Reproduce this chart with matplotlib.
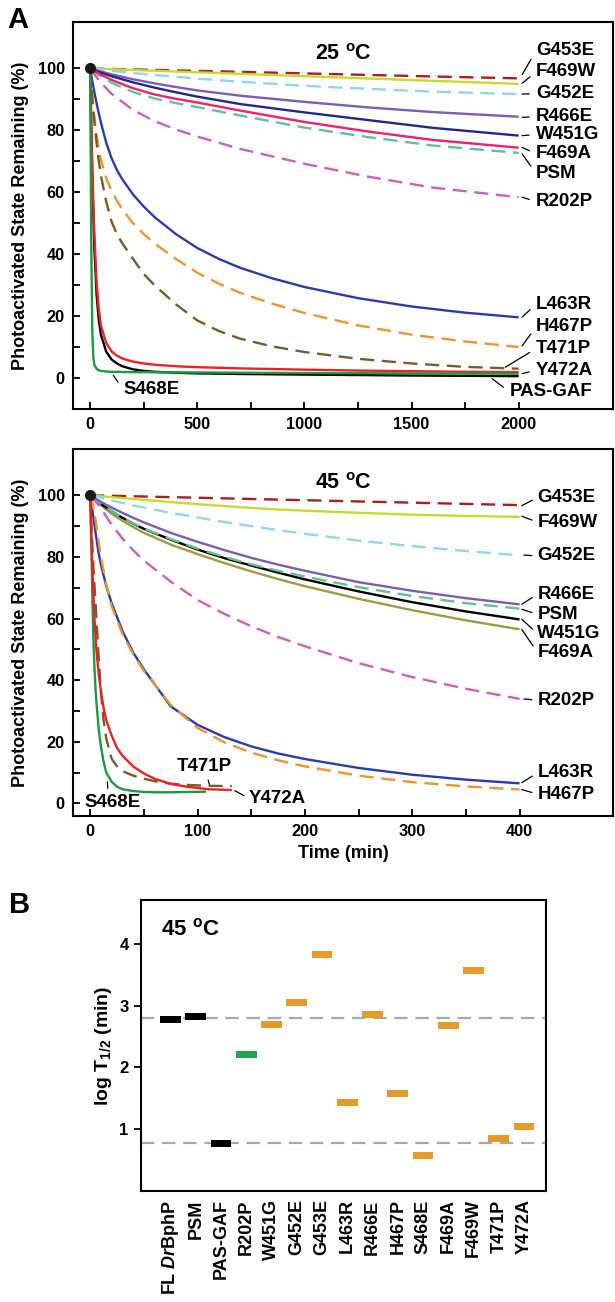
import matplotlib
matplotlib.use("Agg")
import matplotlib.pyplot as plt
import numpy as np

plt.rcParams['font.family'] = ['Liberation Sans', 'DejaVu Sans']
plt.rcParams['mathtext.fontset'] = 'custom'
plt.rcParams['mathtext.rm'] = 'Liberation Sans'
plt.rcParams['mathtext.it'] = 'Liberation Sans:bold:italic'
plt.rcParams['mathtext.bf'] = 'Liberation Sans:bold'

# ---------------- Panel A, 25 C ----------------
t25_slow = [0, 50, 100, 200, 300, 400, 500, 700, 1000, 1300, 1600, 2000]
g453e_25 = [100, 99.92, 99.84, 99.68, 99.52, 99.36, 99.2, 98.9, 98.4, 97.9, 97.4, 96.8]
f469w_25 = [100, 99.88, 99.75, 99.5, 99.25, 99.0, 98.75, 98.25, 97.5, 96.75, 96.0, 95.0]
g452e_25 = [100, 99.6, 99.2, 98.5, 97.9, 97.3, 96.7, 95.7, 94.4, 93.4, 92.5, 91.7]
r466e_25 = [100, 99.0, 98.1, 96.5, 95.2, 94.0, 92.9, 91.2, 89.2, 87.4, 85.9, 84.4]
w451g_25 = [100, 98.6, 97.5, 95.5, 93.8, 92.3, 90.9, 88.5, 85.8, 83.3, 80.8, 78.3]
f469a_25 = [100, 98.0, 96.3, 93.6, 91.6, 90.2, 89.0, 86.4, 82.7, 79.6, 76.9, 74.4]
psm_25 = [100, 97.4, 95.4, 92.4, 90.3, 88.8, 87.5, 84.8, 80.9, 77.8, 75.1, 72.7]
r202p_25 = [100, 95.4, 91.8, 86.6, 83.0, 80.3, 78.0, 74.0, 69.2, 65.0, 61.5, 58.4]

t25_fast = [0, 5, 10, 15, 20, 30, 40, 50, 75, 100, 125, 150, 200, 250, 300, 400, 500, 600,
            700, 850, 1000, 1250, 1500, 1750, 2000]
l463r_25 = [100, 98.0, 96.0, 94.1, 92.2, 88.8, 85.6, 82.6, 76.0, 71.0, 67.2, 64.2, 59.3, 55.4, 52.0,
            46.5, 42.0, 38.5, 35.6, 32.2, 29.4, 25.8, 23.1, 21.1, 19.6]
h467p_25 = [100, 95.3, 91.0, 87.3, 84.0, 78.5, 74.0, 70.5, 64.5, 60.5, 57.3, 54.5, 50.0, 46.5, 43.5,
            38.5, 34.0, 30.5, 27.5, 24.0, 21.0, 17.0, 14.0, 11.8, 10.0]
t471p_25 = [100, 95.0, 90.5, 86.3, 82.5, 76.0, 70.3, 65.5, 57.0, 50.5, 46.5, 43.5, 38.5, 33.6, 30.0,
            23.8, 18.6, 15.2, 12.7, 10.2, 8.4, 6.2, 4.7, 3.6, 3.0]
y472a_25 = [100, 84.0, 69.0, 56.0, 46.0, 31.0, 22.5, 17.0, 11.3, 8.6, 7.2, 6.3, 5.3, 4.7, 4.3,
            3.8, 3.5, 3.3, 3.1, 2.9, 2.7, 2.4, 2.2, 2.0, 1.9]
pasgaf_25 = [100, 81.0, 65.0, 52.0, 41.5, 27.0, 19.0, 14.0, 8.5, 6.0, 4.7, 3.8, 2.8, 2.3, 2.0,
             1.7, 1.5, 1.4, 1.3, 1.2, 1.1, 0.95, 0.8, 0.7, 0.6]
s468e_25 = [100, 45.0, 15.0, 6.5, 4.2, 3.0, 2.5, 2.3, 2.1, 2.0, 2.0, 1.95, 1.9, 1.9, 1.85,
            1.8, 1.8, 1.75, 1.7, 1.65, 1.6, 1.55, 1.5, 1.45, 1.4]

# ---------------- Panel A, 45 C ----------------
t45 = [0, 2.5, 5, 7.5, 10, 15, 20, 30, 40, 50, 75, 100, 125, 150, 175, 200, 250, 300, 350, 400]
g453e_45 = [100, 99.98, 99.96, 99.94, 99.92, 99.88, 99.84, 99.76, 99.68, 99.6, 99.4, 99.2, 99.0, 98.8,
            98.6, 98.4, 98.0, 97.6, 97.2, 96.8]
f469w_45 = [100, 99.92, 99.85, 99.78, 99.7, 99.55, 99.4, 99.1, 98.8, 98.5, 97.8, 97.1, 96.5, 95.9,
            95.4, 95.0, 94.3, 93.7, 93.3, 93.0]
g452e_45 = [100, 99.8, 99.6, 99.4, 99.2, 98.7, 98.3, 97.5, 96.7, 96.0, 94.3, 92.8, 91.3, 90.0,
            88.7, 87.5, 85.3, 83.5, 81.9, 80.5]
r466e_45 = [100, 99.4, 98.9, 98.4, 97.9, 96.9, 96.0, 94.3, 92.7, 91.2, 87.8, 84.9, 82.2, 79.7,
            77.5, 75.5, 71.8, 69.0, 66.6, 64.6]
psm_45 = [100, 99.2, 98.5, 97.8, 97.2, 96.0, 94.8, 92.7, 90.9, 89.2, 85.8, 82.7, 80.0, 77.6,
          75.5, 73.6, 70.2, 67.3, 65.0, 63.2]
w451g_45 = [100, 99.2, 98.5, 97.8, 97.2, 96.0, 94.8, 92.7, 90.8, 89.1, 85.6, 82.4, 79.6, 77.2,
            74.9, 72.7, 68.8, 65.3, 62.3, 59.7]
f469a_45 = [100, 99.1, 98.3, 97.5, 96.8, 95.4, 94.0, 91.7, 89.7, 87.8, 84.0, 80.9, 78.0, 75.3,
            72.8, 70.5, 66.4, 62.7, 59.4, 56.5]
r202p_45 = [100, 99.0, 98.0, 96.9, 95.8, 93.1, 90.5, 86.0, 82.2, 78.8, 72.0, 66.0, 61.5, 57.5,
            54.0, 51.0, 45.5, 41.0, 37.2, 33.9]
l463r_45 = [100, 94.0, 88.0, 82.0, 77.5, 70.5, 65.0, 56.0, 49.0, 43.5, 31.5, 25.5, 21.5, 18.5,
            16.2, 14.4, 11.5, 9.3, 7.7, 6.5]
h467p_45 = [100, 97.0, 92.0, 86.0, 80.0, 71.0, 64.0, 55.0, 48.5, 43.0, 32.0, 24.5, 19.8, 16.5,
            14.0, 12.0, 9.0, 6.9, 5.5, 4.5]

t_s468e_45 = [0, 1, 2, 3, 4, 5, 6, 8, 10, 12.5, 15, 20, 25, 30, 40, 50, 60, 75, 90, 108]
s468e_45 = [100, 85, 68, 53, 44, 37, 32, 24, 18.5, 13.5, 10, 7, 5.4, 4.6, 4.0, 3.7, 3.6, 3.6, 3.7, 3.8]
t_fast_45 = [0, 1, 2, 3, 4, 5, 6, 8, 10, 12.5, 15, 20, 25, 30, 40, 50, 60, 75, 90, 110, 132]
t471p_45 = [100, 92, 84, 77, 71, 65, 59, 47, 36, 27, 21, 14.5, 12, 10.5, 9.0, 8.0, 7.2, 6.4, 6.0, 5.7, 5.6]
y472a_45 = [100, 88, 77, 68, 60, 54, 49, 42, 36.5, 31, 27, 22, 18, 15.5, 12, 9.7, 8.0, 6.3, 5.4, 4.6, 4.3]

# ---------------- Panel B ----------------
variants = ['FL $\\mathit{Dr}$BphP', 'PSM', 'PAS-GAF', 'R202P', 'W451G', 'G452E', 'G453E',
            'L463R', 'R466E', 'H467P', 'S468E', 'F469A', 'F469W', 'T471P', 'Y472A']
log_t_half = [2.78, 2.82, 0.77, 2.21, 2.70, 3.05, 3.82, 1.43, 2.85, 1.57, 0.58, 2.68, 3.57, 0.85, 1.04]
groups = ['ref', 'ref', 'ref', 'pas', 'phy', 'phy', 'phy', 'phy', 'phy', 'phy', 'phy', 'phy', 'phy', 'phy', 'phy']
ref_levels = [2.80, 0.78]

C = dict(g453e='#A8201E', f469w='#C6D92E', g452e='#8DD6F0', r466e='#7B5CB8', w451g='#22268C',
         f469a='#F0206E', psm='#5CC48C', r202p='#CC5EC2', l463r='#2A3BB0', h467p='#F0922E',
         t471p='#7B5A28', y472a='#EC2124', pasgaf='#000000', s468e='#1A9A42', olive='#A09C3C')
group_colors = {'ref': '#000000', 'pas': '#1FA64A', 'phy': '#E59B2A'}

DASH = (0, (6, 3.2))
LW = 1.7

fig = plt.figure(figsize=(6.15, 13.02), dpi=100)
axA1 = fig.add_axes([0.1187, 0.6859, 0.878, 0.2972])
axA2 = fig.add_axes([0.1187, 0.3735, 0.878, 0.2816])
axB = fig.add_axes([0.2293, 0.0853, 0.6585, 0.2235])


def style_A(ax):
    for s in ax.spines.values():
        s.set_linewidth(1.5)
    ax.tick_params(direction='in', length=5, width=1.3, labelsize=11.8, pad=6)
    ax.tick_params(which='minor', direction='in', length=5, width=1.3)
    for lab in ax.get_xticklabels() + ax.get_yticklabels():
        lab.set_fontweight('bold')
    ax.set_ylabel('Photoactivated State Remaining (%)', fontsize=13, fontweight='bold', labelpad=6)


# ---- top panel ----
ax = axA1
series25 = [
    (t25_slow, g453e_25, C['g453e'], DASH), (t25_slow, f469w_25, C['f469w'], '-'),
    (t25_slow, g452e_25, C['g452e'], DASH), (t25_slow, r466e_25, C['r466e'], '-'),
    (t25_slow, w451g_25, C['w451g'], '-'), (t25_slow, psm_25, C['psm'], DASH),
    (t25_slow, f469a_25, C['f469a'], '-'), (t25_slow, r202p_25, C['r202p'], DASH),
    (t25_fast, l463r_25, C['l463r'], '-'), (t25_fast, h467p_25, C['h467p'], DASH),
    (t25_fast, t471p_25, C['t471p'], DASH), (t25_fast, pasgaf_25, C['pasgaf'], '-'),
    (t25_fast, y472a_25, C['y472a'], '-'), (t25_fast, s468e_25, C['s468e'], '-'),
]
for tt, vals, col, ls in series25:
    ax.plot(tt, vals, color=col, lw=LW, ls=ls, solid_capstyle='butt', dash_capstyle='butt')
ax.plot([t25_slow[0]], [g453e_25[0]], 'o', color='#1a1a1a', ms=7, zorder=10)
ax.set_xlim(-80, 2440)
ax.set_ylim(-10, 115)
ax.set_xticks([0, 500, 1000, 1500, 2000])
ax.set_xticks(np.arange(0, 2001, 250), minor=True)
ax.set_yticks(np.arange(0, 101, 20))
ax.set_yticks(np.arange(0, 101, 10), minor=True)
style_A(ax)
ax.text(0.5, 0.915, '25 $^{\\mathbf{o}}$C', transform=ax.transAxes, ha='center', va='center',
        fontsize=15.5, fontweight='bold')

labels25 = [
    ('G453E', (2016, 98.0), (2081, 105.7)),
    ('F469W', (2016, 95.2), (2081, 98.9)),
    ('G452E', (2016, 91.7), (2081, 91.9)),
    ('R466E', (2016, 84.2), (2081, 84.4)),
    ('W451G', (2016, 78.3), (2081, 78.6)),
    ('F469A', (2016, 74.5), (2081, 72.4)),
    ('PSM', (2016, 72.4), (2081, 66.1)),
    ('R202P', (2016, 58.4), (2081, 57.0)),
    ('L463R', (2016, 19.7), (2081, 23.8)),
    ('H467P', (2016, 10.4), (2081, 16.5)),
    ('T471P', (1938, 3.5), (2081, 9.5)),
    ('Y472A', (2016, 1.4), (2081, 2.5)),
    ('PAS-GAF', (1876, -0.2), (1957, -4.5)),
    ('S468E', (108, 0.9), (154, -3.8)),
]
for name, xy, xyt in labels25:
    ax.annotate(name, xy=xy, xytext=xyt, ha='left', va='center', fontsize=13.5, fontweight='bold',
                arrowprops=dict(arrowstyle='-', lw=0.9, color='black', shrinkA=3, shrinkB=0,
                                relpos=(0, 0.5)))

# ---- bottom panel ----
ax = axA2
series45 = [
    (t45, g453e_45, C['g453e'], DASH), (t45, f469w_45, C['f469w'], '-'), (t45, g452e_45, C['g452e'], DASH),
    (t45, f469a_45, C['olive'], '-'), (t45, w451g_45, '#000000', '-'), (t45, psm_45, C['psm'], DASH),
    (t45, r466e_45, C['r466e'], '-'), (t45, r202p_45, C['r202p'], DASH), (t45, l463r_45, C['l463r'], '-'),
    (t45, h467p_45, C['h467p'], DASH), (t_s468e_45, s468e_45, C['s468e'], '-'),
    (t_fast_45, t471p_45, C['t471p'], DASH), (t_fast_45, y472a_45, C['y472a'], '-'),
]
for tt, vals, col, ls in series45:
    ax.plot(tt, vals, color=col, lw=LW, ls=ls, solid_capstyle='butt', dash_capstyle='butt')
ax.plot([t45[0]], [g453e_45[0]], 'o', color='#1a1a1a', ms=7, zorder=10)
ax.set_xlim(-16, 487)
ax.set_ylim(-4, 115)
ax.set_xticks([0, 100, 200, 300, 400])
ax.set_xticks(np.arange(0, 401, 50), minor=True)
ax.set_yticks(np.arange(0, 101, 20))
ax.set_yticks(np.arange(0, 101, 10), minor=True)
style_A(ax)
ax.set_xlabel('Time (min)', fontsize=13, fontweight='bold', labelpad=4)
ax.text(0.5, 0.905, '45 $^{\\mathbf{o}}$C', transform=ax.transAxes, ha='center', va='center',
        fontsize=15.5, fontweight='bold')

labels45 = [
    ('G453E', (402, 96.6), (416.6, 99.3), (0, 0.5), 'left'),
    ('F469W', (402, 93.2), (416.6, 91.3), (0, 0.5), 'left'),
    ('G452E', (404, 80.6), (416.6, 80.3), (0, 0.5), 'left'),
    ('R466E', (402, 64.6), (416.6, 67.9), (0, 0.5), 'left'),
    ('PSM', (402, 63.0), (416.6, 61.4), (0, 0.5), 'left'),
    ('W451G', (402, 59.8), (416.6, 55.1), (0, 0.5), 'left'),
    ('F469A', (402, 56.5), (416.6, 49.0), (0, 0.5), 'left'),
    ('R202P', (404, 33.9), (416.6, 33.5), (0, 0.5), 'left'),
    ('L463R', (402, 6.7), (416.6, 9.9), (0, 0.5), 'left'),
    ('H467P', (402, 4.5), (416.6, 3.0), (0, 0.5), 'left'),
    ('T471P', (111, 6.2), (106, 12.1), (0.55, 0), 'center'),
    ('Y472A', (134.7, 4.1), (148, 1.6), (0, 0.5), 'left'),
    ('S468E', (16, 7.0), (-5.3, 0.3), (0.42, 1.0), 'left'),
]
for name, xy, xyt, rp, ha in labels45:
    ax.annotate(name, xy=xy, xytext=xyt, ha=ha, va='center', fontsize=13.5, fontweight='bold',
                arrowprops=dict(arrowstyle='-', lw=0.9, color='black', shrinkA=2, shrinkB=0,
                                relpos=rp))

# ---- panel B ----
ax = axB
xpos = np.arange(len(variants))
vals = np.array(log_t_half)
bar_h = 0.115
ax.bar(xpos, bar_h, bottom=vals - bar_h / 2, width=0.82,
       color=[group_colors[g] for g in groups], edgecolor='none', zorder=3)
for lvl in ref_levels:
    ax.axhline(lvl, color='#A8A8A8', lw=1.6, ls=(0, (6, 3.5)), zorder=1)
ax.set_xlim(-1.17, 14.87)
ax.set_ylim(0, 4.71)
ax.set_yticks([1, 2, 3, 4])
ax.set_xticks(xpos)
ax.set_xticklabels(variants, rotation=90, fontsize=13, fontweight='bold')
ax.tick_params(axis='x', length=0, pad=6)
ax.tick_params(axis='y', direction='out', length=5, width=1.3, labelsize=12, pad=4)
for lab in ax.get_yticklabels():
    lab.set_fontweight('bold')
for s in ax.spines.values():
    s.set_linewidth(1.5)
ax.set_ylabel('log T$_{\\mathbf{1/2}}$ (min)', fontsize=14, fontweight='bold', labelpad=4)
ax.text(0.05, 0.9, '45 $^{\\mathbf{o}}$C', transform=ax.transAxes, ha='left', va='center',
        fontsize=16, fontweight='bold')

fig.text(0.012, 0.985, 'A', fontsize=21, fontweight='bold', ha='left', va='center')
fig.text(0.015, 0.305, 'B', fontsize=21, fontweight='bold', ha='left', va='center')

fig.savefig('out.png', dpi=100)
